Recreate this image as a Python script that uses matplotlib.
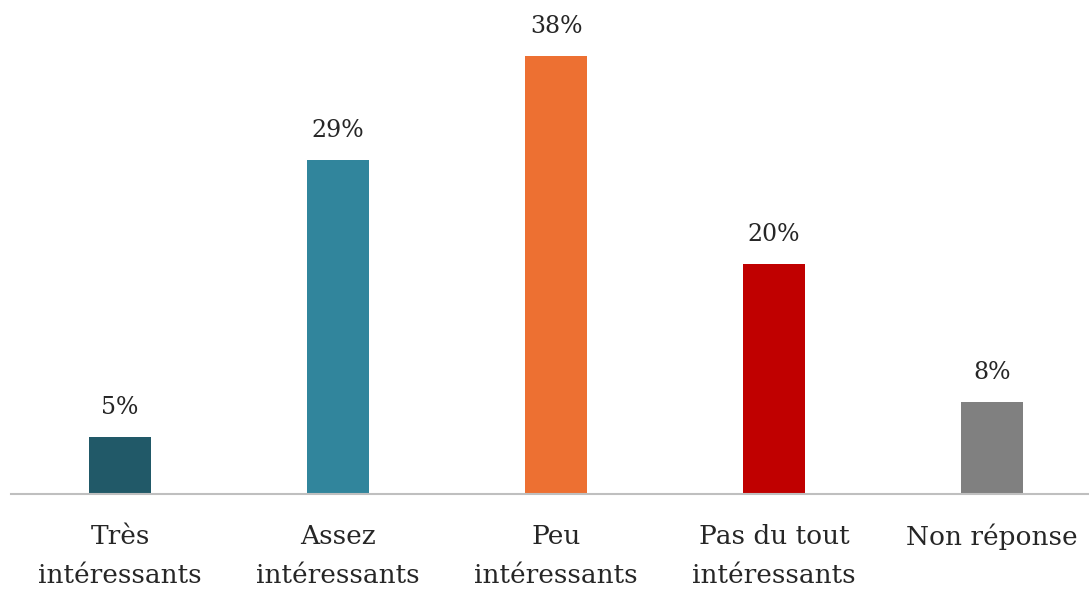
import matplotlib
matplotlib.use("Agg")
import matplotlib.pyplot as plt

categories = ["Très\nintéressants", "Assez\nintéressants", "Peu\nintéressants",
              "Pas du tout\nintéressants", "Non réponse"]
values = [5, 29, 38, 20, 8]
value_labels = ["5%", "29%", "38%", "20%", "8%"]
colors = ["#215968", "#31859C", "#ED7032", "#C00000", "#808080"]

plt.rcParams['font.family'] = ['DejaVu Serif']

fig = plt.figure(figsize=(10.89, 5.90), dpi=100)
ax = fig.add_axes([11/1089, 0.1619, 1090/1089, 0.7817])
x = list(range(len(categories)))
bars = ax.bar(x, values, width=0.287, color=colors)
ax.set_xlim(-0.5, 4.5)
ax.set_ylim(0, 40)
for xi, v, lab in zip(x, values, value_labels):
    ax.annotate(lab, (xi, v), xytext=(0, 13), textcoords="offset points",
                ha="center", va="bottom", fontsize=17, color="#262626")
ax.set_xticks(x)
ax.set_xticklabels(categories, fontsize=19, color="#262626", linespacing=1.72)
ax.tick_params(axis='x', length=0, pad=21)
ax.set_yticks([])
for s in ["top", "right", "left"]:
    ax.spines[s].set_visible(False)
ax.spines["bottom"].set_color("#BFBFBF")
ax.spines["bottom"].set_linewidth(1.5)
fig.savefig("out.png", dpi=100)
